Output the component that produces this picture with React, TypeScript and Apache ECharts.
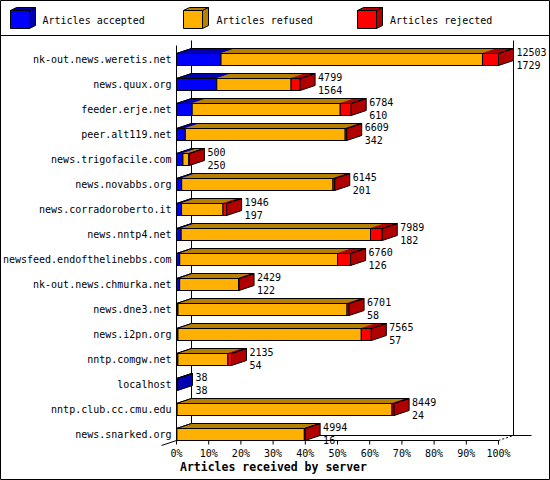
import React, { useEffect, useRef } from "react";
import * as echarts from "echarts";

const categories = [
  "nk-out.news.weretis.net",
  "news.quux.org",
  "feeder.erje.net",
  "peer.alt119.net",
  "news.trigofacile.com",
  "news.novabbs.org",
  "news.corradoroberto.it",
  "news.nntp4.net",
  "newsfeed.endofthelinebbs.com",
  "nk-out.news.chmurka.net",
  "news.dne3.net",
  "news.i2pn.org",
  "nntp.comgw.net",
  "localhost",
  "nntp.club.cc.cmu.edu",
  "news.snarked.org",
];
const accepted = [1729, 1564, 610, 342, 250, 201, 197, 182, 126, 122, 58, 57, 54, 38, 24, 16];
const refused = [10152, 2885, 5747, 6207, 230, 5874, 1609, 7352, 6129, 2297, 6563, 7118, 1941, 0, 8345, 4948];
const rejected = [622, 350, 427, 60, 20, 70, 140, 455, 505, 10, 80, 390, 140, 0, 80, 30];
const seriesNames = ["Articles accepted", "Articles refused", "Articles rejected"];
const xTickStep = 10;
const xAxisTitle = "Articles received by server";

const FRONT = ["#0000ff", "#ffb000", "#ff0000"];
const DARK = ["#0000b0", "#b88000", "#b00000"];
const FONT = '"DejaVu Sans Mono", "Liberation Mono", monospace';
const DX = 15;
const DY = 5;
const HALF = 6;

export default function App() {
  const ref = useRef<HTMLDivElement>(null);

  useEffect(() => {
    if (!ref.current) return;
    const chart = echarts.init(ref.current, undefined, { renderer: "svg" });

    const values = [accepted, refused, rejected];
    const totals = categories.map((_, i) => accepted[i] + refused[i] + rejected[i]);
    const maxTotal = Math.max(...totals);
    const pct = (v: number) => (v / maxTotal) * 100;

    const lastIdx = categories.map((_, i) => {
      let l = 0;
      for (let k = 0; k < 3; k++) if (values[k][i] > 0) l = k;
      return l;
    });

    const barSeries = values.map((arr, k) => {
      const data: number[][] = [];
      categories.forEach((_, i) => {
        let start = 0;
        for (let j = 0; j < k; j++) start += values[j][i];
        if (arr[i] > 0) {
          data.push([pct(start), pct(start + arr[i]), i, lastIdx[i] === k ? 1 : 0, pct(totals[i])]);
        }
      });
      return {
        type: "custom",
        name: seriesNames[k],
        z: 3,
        clip: false,
        encode: { x: [0, 1], y: 2 },
        data,
        renderItem: (_p: any, api: any) => {
          const s = api.value(0);
          const e = api.value(1);
          const ci = api.value(2);
          const last = api.value(3);
          const a = api.coord([s, ci]);
          const b = api.coord([e, ci]);
          const z0 = api.coord([0, ci]);
          const x0 = a[0];
          const x1 = b[0];
          const yc = a[1];
          const top = yc - HALF;
          const bot = yc + HALF;
          const children: any[] = [
            {
              type: "polygon",
              shape: { points: [[x0, top], [x1, top], [x1 + DX, top - DY], [x0 + DX, top - DY]] },
              style: { fill: DARK[k], stroke: DARK[k], lineWidth: 1 },
            },
            {
              type: "rect",
              shape: { x: x0, y: top, width: x1 - x0, height: bot - top },
              style: { fill: FRONT[k], stroke: "#000", lineWidth: 1 },
            },
          ];
          if (last) {
            children.push({
              type: "polygon",
              shape: { points: [[x1, top], [x1 + DX, top - DY], [x1 + DX, bot - DY], [x1, bot]] },
              style: { fill: DARK[k], stroke: "#000", lineWidth: 1 },
            });
            const bx = z0[0];
            children.push({
              type: "polygon",
              shape: { points: [[bx, top], [x1, top], [x1 + DX, top - DY], [bx + DX, top - DY]] },
              style: { fill: "none", stroke: "#000", lineWidth: 1 },
            });
          }
          return { type: "group", children };
        },
      };
    });

    const labelSeries = {
      type: "custom",
      z: 4,
      clip: false,
      encode: { x: 0, y: 1 },
      data: categories.map((_, i) => [pct(totals[i]), i, totals[i], accepted[i]]),
      renderItem: (_p: any, api: any) => {
        const p = api.coord([api.value(0), api.value(1)]);
        return {
          type: "text",
          x: p[0] + DX + 3,
          y: p[1] - 1,
          style: {
            text: `${api.value(2)}\n${api.value(3)}`,
            fill: "#000",
            font: `10px ${FONT}`,
            align: "left",
            verticalAlign: "middle",
            lineHeight: 13,
          },
        };
      },
    };

    const frameSeries = {
      type: "custom",
      z: 1,
      clip: false,
      encode: { x: 0, y: 1 },
      data: [[0, 0]],
      renderItem: (_p: any, api: any) => {
        const n = categories.length - 1;
        const tl = api.coord([0, 0]);
        const bl = api.coord([0, n]);
        const br = api.coord([100, n]);
        const xL = tl[0];
        const xR = br[0];
        const yT = tl[1] - HALF - 8;
        const yB = bl[1] + HALF;
        const ln = (x1: number, y1: number, x2: number, y2: number, dash?: number[]) => ({
          type: "line",
          shape: { x1, y1, x2, y2 },
          style: { stroke: "#000", lineWidth: 1, lineDash: dash },
        });
        const children: any[] = [
          ln(xL, yT, xL, yB),
          ln(xL + DX, yT - DY, xL + DX, yB - DY),
          ln(xR + DX, yT - DY, xR + DX, yB - DY),
          ln(xL + DX, yB - DY, xR + DX + 18, yB - DY),
          ln(xL - DX, yB + DY, xL + DX, yB - DY),
          ln(xL, yB, xR, yB),
          ln(xR, yB, xR + DX, yB - DY, [2, 2]),
        ];
        for (let v = 0; v <= 100; v += xTickStep) {
          const x = api.coord([v, n])[0];
          children.push(ln(x, yB, x, yB + 4));
        }
        return { type: "group", children };
      },
    };

    const legendBoxX = [10.5, 183.5, 357.5];
    const legendTextX = [42.5, 216.5, 390];
    const legendGraphics: any[] = [];
    seriesNames.forEach((name, k) => {
      const bx = legendBoxX[k];
      const ty = 10.5;
      const w = 19;
      const h = 18;
      const ox = 6;
      const oy = 3;
      legendGraphics.push(
        {
          type: "polygon",
          shape: { points: [[bx, ty], [bx + w, ty], [bx + w + ox, ty - oy], [bx + ox, ty - oy]] },
          style: { fill: DARK[k], stroke: "#000", lineWidth: 1 },
        },
        {
          type: "polygon",
          shape: { points: [[bx + w, ty], [bx + w + ox, ty - oy], [bx + w + ox, ty + h - oy], [bx + w, ty + h]] },
          style: { fill: DARK[k], stroke: "#000", lineWidth: 1 },
        },
        {
          type: "rect",
          shape: { x: bx, y: ty, width: w, height: h },
          style: { fill: FRONT[k], stroke: "#000", lineWidth: 1 },
        },
        {
          type: "text",
          x: legendTextX[k],
          y: 20,
          style: { text: name, fill: "#000", font: `10px ${FONT}`, verticalAlign: "middle" },
        }
      );
    });

    chart.setOption({
      animation: false,
      backgroundColor: "#fff",
      grid: { left: 176.5, right: 51.5, top: 47, bottom: 33, containLabel: false, outerBoundsMode: "none" },
      xAxis: {
        type: "value",
        min: 0,
        max: 100,
        interval: xTickStep,
        axisLine: { show: false },
        axisTick: { show: false },
        splitLine: { show: false },
        axisLabel: { formatter: "{value}%", margin: 1, color: "#000", fontSize: 10, fontFamily: FONT },
      },
      yAxis: {
        type: "category",
        data: categories,
        inverse: true,
        axisLine: { show: false },
        axisTick: { show: false },
        splitLine: { show: false },
        axisLabel: { interval: 0, margin: 5, color: "#000", fontSize: 10, fontFamily: FONT },
      },
      graphic: [
        {
          type: "rect",
          shape: { x: 0.5, y: 0.5, width: 549, height: 479 },
          style: { fill: "none", stroke: "#000", lineWidth: 1 },
          z: 10,
        },
        {
          type: "line",
          shape: { x1: 0, y1: 35.5, x2: 550, y2: 35.5 },
          style: { stroke: "#000", lineWidth: 1 },
        },
        ...legendGraphics,
        {
          type: "text",
          x: 180,
          y: 467,
          style: { text: xAxisTitle, fill: "#000", font: `bold 11.5px ${FONT}`, verticalAlign: "middle" },
        },
      ],
      series: [frameSeries, ...barSeries, labelSeries],
    } as any);

    return () => chart.dispose();
  }, []);

  return (
    <div
      ref={ref}
      style={{ position: "absolute", left: 0, top: 0, width: 550, height: 480, background: "#fff" }}
    />
  );
}
